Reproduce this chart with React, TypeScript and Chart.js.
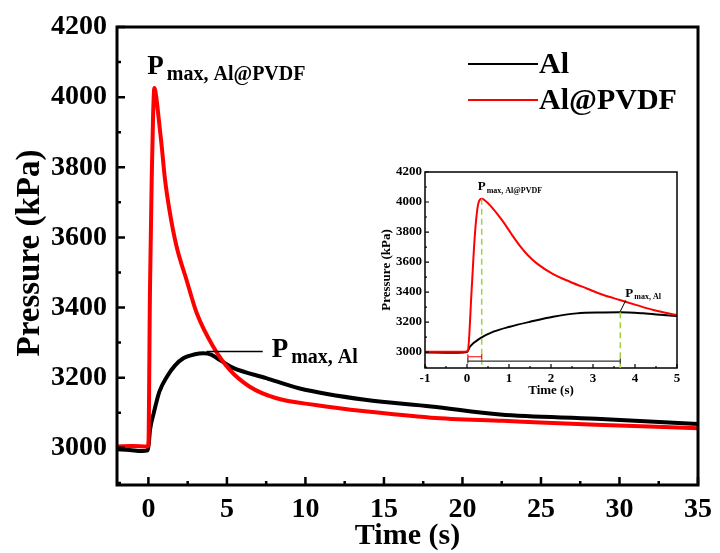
import React, { useEffect, useRef } from 'react';
import { Chart, registerables } from 'chart.js';
Chart.register(...registerables);

const FONT = "'Liberation Serif', 'Times New Roman', Times, serif";

// ---- Main chart data ----
const seriesLabels = ['Al', 'Al@PVDF'];
const seriesColors = ['#000000', '#ff0000'];

const pvdfTime = [-2, -1, -0.05, 0, 0.1, 0.21, 0.3, 0.38, 0.5, 0.63, 0.845, 1.05, 1.37, 1.79, 2.42, 3.07, 4.12, 5.17, 6.43, 8.11, 10.64, 13.8, 18, 22.6, 28.5, 35];
const pvdfPressure = [3004, 3005, 3004, 3008, 3450, 3766, 3950, 4026, 4000, 3950, 3861, 3768, 3670, 3575, 3480, 3385, 3289, 3223, 3175, 3142, 3122, 3104, 3086, 3077, 3066, 3056];

const alTime = [-2, -1.2, -0.4, -0.05, 0.02, 0.1, 0.34, 0.7, 1.2, 1.7, 2.25, 2.9, 3.5, 4.0, 4.35, 5.4, 7.5, 9.58, 13.8, 18, 22.4, 28.5, 35];
const alPressure = [2996, 2994, 2991, 2993, 3010, 3050, 3099, 3160, 3204, 3235, 3256, 3266, 3270, 3266, 3256, 3228, 3199, 3170, 3137, 3118, 3095, 3083, 3068];

const mainXTicks = [0, 5, 10, 15, 20, 25, 30, 35];
const mainXMinor = [2.5, 7.5, 12.5, 17.5, 22.5, 27.5, 32.5];
const mainYTicks = [3000, 3200, 3400, 3600, 3800, 4000, 4200];
const mainYMinor = [2900, 3100, 3300, 3500, 3700, 3900, 4100];

const mainPeakPvdf = { t: 0.38, p: 4026 };
const mainPeakAl = { t: 3.7, p: 3275 };
const mainLeaderEndT = 7.28;

// ---- Inset chart data ----
const insetPvdfTime = [-1, -0.5, -0.05, 0.02, 0.11, 0.19, 0.27, 0.35, 0.42, 0.55, 0.7, 0.86, 1.05, 1.26, 1.45, 1.66, 2.05, 2.45, 2.85, 3.25, 3.64, 4.04, 4.44, 5];
const insetPvdfPressure = [3002, 3003, 3002, 3010, 3413, 3791, 3991, 4022, 4012, 3978, 3928, 3869, 3790, 3708, 3645, 3591, 3520, 3469, 3424, 3380, 3347, 3313, 3280, 3247];

const insetAlTime = [-1, -0.5, -0.2, 0, 0.07, 0.31, 0.63, 1.02, 1.5, 2.05, 2.61, 3.25, 3.64, 4.2, 4.68, 5];
const insetAlPressure = [2998, 2996, 2995, 3000, 3036, 3091, 3136, 3169, 3202, 3236, 3258, 3264, 3265, 3258, 3247, 3240];

const insetXTicks = [-1, 0, 1, 2, 3, 4, 5];
const insetXMinor = [-0.5, 0.5, 1.5, 2.5, 3.5, 4.5];
const insetYTicks = [3000, 3200, 3400, 3600, 3800, 4000, 4200];
const insetYMinor = [2900, 3100, 3300, 3500, 3700, 3900, 4100];

const insetPeakPvdf = { t: 0.35, p: 4022 };
const insetPeakAl = { t: 3.65, p: 3265 };
const insetBarPvdfY = 2969;
const insetBarAlY = 2940;
const insetBarStart = 0.02;

const Y_MIN = 2894;
const Y_MAX = 4200;

function pts(xs: number[], ys: number[]) {
  return xs.map((x, i) => ({ x, y: ys[i] }));
}

function drawTicks(ctx: CanvasRenderingContext2D, chart: any, xs: number[], xm: number[], ys: number[], ym: number[], major: number, minor: number, lw: number) {
  const { left, bottom } = chart.chartArea;
  const sx = chart.scales.x;
  const sy = chart.scales.y;
  ctx.lineWidth = lw;
  ctx.strokeStyle = '#000';
  ctx.beginPath();
  xs.forEach((v) => { const p = sx.getPixelForValue(v); ctx.moveTo(p, bottom); ctx.lineTo(p, bottom - major); });
  xm.forEach((v) => { const p = sx.getPixelForValue(v); ctx.moveTo(p, bottom); ctx.lineTo(p, bottom - minor); });
  ys.forEach((v) => { const p = sy.getPixelForValue(v); ctx.moveTo(left, p); ctx.lineTo(left + major, p); });
  ym.forEach((v) => { const p = sy.getPixelForValue(v); ctx.moveTo(left, p); ctx.lineTo(left + minor, p); });
  ctx.stroke();
}

function drawPSub(ctx: CanvasRenderingContext2D, x: number, y: number, big: number, small: number, sub: string, dy: number, gap: number) {
  ctx.fillStyle = '#000';
  ctx.textAlign = 'left';
  ctx.textBaseline = 'alphabetic';
  ctx.font = `bold ${big}px ${FONT}`;
  ctx.fillText('P', x, y);
  const w = ctx.measureText('P').width;
  ctx.font = `bold ${small}px ${FONT}`;
  ctx.fillText(sub, x + w + gap, y + dy);
}

const mainPlugin = {
  id: 'mainDecor',
  afterDatasetsDraw(chart: any) {
    const ctx: CanvasRenderingContext2D = chart.ctx;
    const { left, right, top, bottom } = chart.chartArea;
    const sx = chart.scales.x;
    const sy = chart.scales.y;
    ctx.save();
    ctx.strokeStyle = '#000';
    ctx.lineWidth = 3;
    ctx.strokeRect(left, top, right - left, bottom - top);
    drawTicks(ctx, chart, mainXTicks, mainXMinor, mainYTicks, mainYMinor, 8, 4, 2.5);

    // leader line to Al peak
    ctx.lineWidth = 1.5;
    ctx.beginPath();
    ctx.moveTo(sx.getPixelForValue(mainPeakAl.t), sy.getPixelForValue(mainPeakAl.p));
    ctx.lineTo(sx.getPixelForValue(mainLeaderEndT), sy.getPixelForValue(mainPeakAl.p));
    ctx.stroke();

    // annotations
    drawPSub(ctx, sx.getPixelForValue(mainPeakPvdf.t) - 7, 74, 27, 20, 'max, Al@PVDF', 6, 3);
    drawPSub(ctx, sx.getPixelForValue(mainLeaderEndT) + 9, 357, 27, 20, 'max, Al', 6, 3);

    // legend
    const legY = [64, 100];
    seriesLabels.forEach((lab, i) => {
      ctx.strokeStyle = seriesColors[i];
      ctx.lineWidth = 2;
      ctx.beginPath();
      ctx.moveTo(468, legY[i]);
      ctx.lineTo(538, legY[i]);
      ctx.stroke();
      ctx.fillStyle = '#000';
      ctx.font = `bold 30px ${FONT}`;
      ctx.textAlign = 'left';
      ctx.textBaseline = 'middle';
      ctx.fillText(lab, 539, legY[i] + 1);
    });

    // axis titles
    ctx.fillStyle = '#000';
    ctx.font = `bold 30px ${FONT}`;
    ctx.textAlign = 'center';
    ctx.textBaseline = 'alphabetic';
    ctx.fillText('Time (s)', (left + right) / 2, 544);
    ctx.save();
    ctx.font = `bold 33px ${FONT}`;
    ctx.translate(39, 253);
    ctx.rotate(-Math.PI / 2);
    ctx.fillText('Pressure (kPa)', 0, 0);
    ctx.restore();
    ctx.restore();
  },
};

const insetPlugin = {
  id: 'insetDecor',
  afterDatasetsDraw(chart: any) {
    const ctx: CanvasRenderingContext2D = chart.ctx;
    const { left, right, top, bottom } = chart.chartArea;
    const sx = chart.scales.x;
    const sy = chart.scales.y;
    ctx.save();
    ctx.strokeStyle = '#000';
    ctx.lineWidth = 1.5;
    ctx.strokeRect(left, top, right - left, bottom - top);
    drawTicks(ctx, chart, insetXTicks, insetXMinor, insetYTicks, insetYMinor, 4, 2, 1.2);

    // green dashed lines at peaks
    ctx.strokeStyle = '#9fd23c';
    ctx.lineWidth = 1.5;
    ctx.setLineDash([6, 4]);
    ctx.beginPath();
    ctx.moveTo(sx.getPixelForValue(insetPeakPvdf.t), sy.getPixelForValue(insetPeakPvdf.p));
    ctx.lineTo(sx.getPixelForValue(insetPeakPvdf.t), bottom);
    ctx.moveTo(sx.getPixelForValue(insetPeakAl.t), sy.getPixelForValue(insetPeakAl.p));
    ctx.lineTo(sx.getPixelForValue(insetPeakAl.t), bottom);
    ctx.stroke();
    ctx.setLineDash([]);

    // time-to-peak bars
    const bar = (t1: number, yv: number, color: string) => {
      const x0 = sx.getPixelForValue(insetBarStart);
      const x1 = sx.getPixelForValue(t1);
      const yy = sy.getPixelForValue(yv);
      ctx.strokeStyle = color;
      ctx.lineWidth = 1.2;
      ctx.beginPath();
      ctx.moveTo(x0, yy); ctx.lineTo(x1, yy);
      ctx.moveTo(x0, yy - 2.5); ctx.lineTo(x0, yy + 2.5);
      ctx.moveTo(x1, yy - 2.5); ctx.lineTo(x1, yy + 2.5);
      ctx.stroke();
    };
    bar(insetPeakPvdf.t, insetBarPvdfY, '#ff0000');
    bar(insetPeakAl.t, insetBarAlY, '#333333');

    // leader to Al peak
    ctx.strokeStyle = '#000';
    ctx.lineWidth = 1;
    ctx.beginPath();
    ctx.moveTo(sx.getPixelForValue(insetPeakAl.t), sy.getPixelForValue(insetPeakAl.p) - 1);
    ctx.lineTo(sx.getPixelForValue(3.78), sy.getPixelForValue(3345));
    ctx.stroke();

    drawPSub(ctx, sx.getPixelForValue(insetPeakPvdf.t) - 4, 40, 13, 8, 'max, Al@PVDF', 3, 1);
    drawPSub(ctx, sx.getPixelForValue(3.77), 147, 13, 8, 'max, Al', 2, 1);

    ctx.fillStyle = '#000';
    ctx.font = `bold 13px ${FONT}`;
    ctx.textAlign = 'center';
    ctx.textBaseline = 'alphabetic';
    ctx.fillText('Time (s)', (left + right) / 2, 244);
    ctx.save();
    ctx.translate(20, (top + bottom) / 2);
    ctx.rotate(-Math.PI / 2);
    ctx.fillText('Pressure (kPa)', 0, 0);
    ctx.restore();
    ctx.restore();
  },
};

function makeScales(xMin: number, xMax: number, xTicks: number[], yTicks: number[], xH: number, yW: number, size: number, xPad: number, yPad: number) {
  const tickFont = { family: FONT, size, weight: 'bold' as const };
  return {
    x: {
      type: 'linear' as const,
      min: xMin,
      max: xMax,
      afterBuildTicks: (s: any) => { s.ticks = xTicks.map((v) => ({ value: v })); },
      afterFit: (s: any) => { s.height = xH; },
      grid: { display: false, drawTicks: false },
      border: { display: false },
      ticks: { font: tickFont, color: '#000', padding: xPad, maxRotation: 0, autoSkip: false, callback: (v: any) => String(v) },
    },
    y: {
      type: 'linear' as const,
      min: Y_MIN,
      max: Y_MAX,
      afterBuildTicks: (s: any) => { s.ticks = yTicks.map((v) => ({ value: v })); },
      afterFit: (s: any) => { s.width = yW; },
      grid: { display: false, drawTicks: false },
      border: { display: false },
      ticks: { font: tickFont, color: '#000', padding: yPad, autoSkip: false, callback: (v: any) => String(v) },
    },
  };
}

export default function App() {
  const mainRef = useRef<HTMLCanvasElement>(null);
  const insetRef = useRef<HTMLCanvasElement>(null);

  useEffect(() => {
    const main = new Chart(mainRef.current as HTMLCanvasElement, {
      type: 'line',
      data: {
        datasets: [
          { label: seriesLabels[1], data: pts(pvdfTime, pvdfPressure), borderColor: seriesColors[1], borderWidth: 4, pointRadius: 0, cubicInterpolationMode: 'monotone' },
          { label: seriesLabels[0], data: pts(alTime, alPressure), borderColor: seriesColors[0], borderWidth: 4, pointRadius: 0, cubicInterpolationMode: 'monotone' },
        ],
      },
      options: {
        responsive: false,
        animation: false,
        devicePixelRatio: 1,
        layout: { padding: { top: 27, right: 15, left: 0, bottom: 0 } },
        plugins: { legend: { display: false }, tooltip: { enabled: false } },
        scales: makeScales(-2, 35, mainXTicks, mainYTicks, 68, 117, 28, 8, 10) as any,
      },
      plugins: [mainPlugin],
    });
    const inset = new Chart(insetRef.current as HTMLCanvasElement, {
      type: 'line',
      data: {
        datasets: [
          { label: seriesLabels[1], data: pts(insetPvdfTime, insetPvdfPressure), borderColor: seriesColors[1], borderWidth: 2, pointRadius: 0, cubicInterpolationMode: 'monotone' },
          { label: seriesLabels[0], data: pts(insetAlTime, insetAlPressure), borderColor: seriesColors[0], borderWidth: 2, pointRadius: 0, cubicInterpolationMode: 'monotone' },
        ],
      },
      options: {
        responsive: false,
        animation: false,
        devicePixelRatio: 1,
        layout: { padding: { top: 22, right: 13, left: 0, bottom: 0 } },
        plugins: { legend: { display: false }, tooltip: { enabled: false } },
        scales: makeScales(-1, 5, insetXTicks, insetYTicks, 32, 55, 13, 3, 3) as any,
      },
      plugins: [insetPlugin],
    });
    return () => { main.destroy(); inset.destroy(); };
  }, []);

  return (
    <div style={{ position: 'absolute', left: 0, top: 0, width: 720, height: 553, background: '#fff', overflow: 'hidden' }}>
      <canvas ref={mainRef} width={720} height={553} style={{ position: 'absolute', left: 0, top: 0, width: 720, height: 553 }} />
      <canvas ref={insetRef} width={320} height={250} style={{ position: 'absolute', left: 370, top: 150, width: 320, height: 250 }} />
    </div>
  );
}
